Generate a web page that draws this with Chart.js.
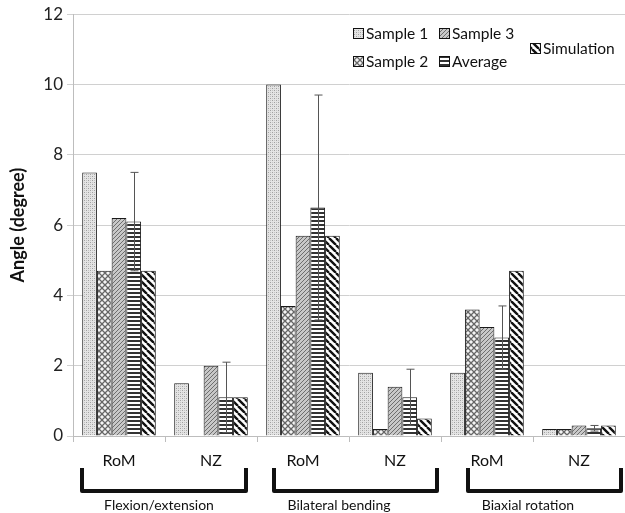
<!DOCTYPE html>
<html>
<head>
<meta charset="utf-8">
<script src="https://cdn.jsdelivr.net/npm/chart.js@4.4.1/dist/chart.umd.min.js"></script>
<style>
  html, body { margin: 0; padding: 0; background: #fff; }
  #wrap { width: 625px; height: 513px; position: relative; }
</style>
</head>
<body>
<div id="wrap"><canvas id="chart"></canvas></div>
<script>
const categories = ["RoM", "NZ", "RoM", "NZ", "RoM", "NZ"];
const groups = ["Flexion/extension", "Bilateral bending", "Biaxial rotation"];

const sample1 = [7.5, 1.5, 10.0, 1.8, 1.8, 0.2];
const sample2 = [4.7, 0, 3.7, 0.2, 3.6, 0.2];
const sample3 = [6.2, 2.0, 5.7, 1.4, 3.1, 0.3];
const average = [6.1, 1.1, 6.5, 1.1, 2.8, 0.22];
const averageErr = [1.4, 1.0, 3.2, 0.8, 0.9, 0.08];
const simulation = [4.7, 1.1, 5.7, 0.5, 4.7, 0.3];

const yTicks = [0, 2, 4, 6, 8, 10, 12];

const FONT = "Lato, 'Open Sans', sans-serif";

function makePattern(size, draw) {
  const c = document.createElement("canvas");
  c.width = size; c.height = size;
  const g = c.getContext("2d");
  draw(g, size);
  return g.createPattern(c, "repeat");
}

// sample 1: fine light grey stipple
const patS1 = makePattern(4, (g, s) => {
  g.fillStyle = "#e4e4e4"; g.fillRect(0, 0, s, s);
  g.fillStyle = "#a0a0a0";
  g.fillRect(0, 0, 1, 1); g.fillRect(2, 2, 1, 1);
  g.fillStyle = "#c4c4c4";
  g.fillRect(2, 0, 1, 1); g.fillRect(0, 2, 1, 1);
});
// sample 2: checker / lattice
const patS2 = makePattern(6, (g, s) => {
  g.fillStyle = "#f4f4f4"; g.fillRect(0, 0, s, s);
  g.strokeStyle = "#666"; g.lineWidth = 1.3;
  g.beginPath();
  g.moveTo(0, 0); g.lineTo(s, s);
  g.moveTo(s, 0); g.lineTo(0, s);
  g.stroke();
});
// sample 3: fine forward diagonal on grey
const patS3 = makePattern(4, (g, s) => {
  g.fillStyle = "#c8c8c8"; g.fillRect(0, 0, s, s);
  g.strokeStyle = "#6e6e6e"; g.lineWidth = 1;
  g.beginPath();
  g.moveTo(0, s); g.lineTo(s, 0);
  g.moveTo(-1, 1); g.lineTo(1, -1);
  g.moveTo(s - 1, s + 1); g.lineTo(s + 1, s - 1);
  g.stroke();
});
// average: horizontal lines
const patAvg = makePattern(4, (g, s) => {
  g.fillStyle = "#ffffff"; g.fillRect(0, 0, s, s);
  g.fillStyle = "#333333"; g.fillRect(0, 0, s, 2);
});
// simulation: wide backward diagonal stripes
const patSim = makePattern(7, (g, s) => {
  g.fillStyle = "#ffffff"; g.fillRect(0, 0, s, s);
  g.strokeStyle = "#111111"; g.lineWidth = 2.4;
  g.beginPath();
  for (let k = -1; k <= 1; k++) {
    g.moveTo(k * s, 0); g.lineTo(k * s + s, s);
  }
  g.stroke();
});

const seriesDefs = [
  { label: "Sample 1", data: sample1, pat: patS1 },
  { label: "Sample 2", data: sample2, pat: patS2 },
  { label: "Sample 3", data: sample3, pat: patS3 },
  { label: "Average", data: average, pat: patAvg },
  { label: "Simulation", data: simulation, pat: patSim },
];

const errorBars = {
  id: "errorBars",
  afterDatasetsDraw(chart) {
    const meta = chart.getDatasetMeta(3);
    const y = chart.scales.y;
    const ctx = chart.ctx;
    ctx.save();
    ctx.strokeStyle = "#555";
    ctx.lineWidth = 1;
    meta.data.forEach((bar, i) => {
      const top = y.getPixelForValue(average[i] + averageErr[i]);
      const bot = y.getPixelForValue(average[i] - averageErr[i]);
      const x = Math.round(bar.x) + 0.5;
      ctx.beginPath();
      ctx.moveTo(x, top); ctx.lineTo(x, bot);
      ctx.moveTo(x - 4, top); ctx.lineTo(x + 4, top);
      ctx.moveTo(x - 4, bot); ctx.lineTo(x + 4, bot);
      ctx.stroke();
    });
    ctx.restore();
  }
};

const brackets = {
  id: "brackets",
  afterDraw(chart) {
    const x = chart.scales.x;
    const ctx = chart.ctx;
    const leftOff = [-37, -29, -19];
    const rightOff = [35, 42, 42];
    const labelOff = [-6, -10, -5];
    ctx.save();
    ctx.strokeStyle = "#111";
    ctx.lineWidth = 4;
    ctx.lineJoin = "round";
    ctx.lineCap = "butt";
    groups.forEach((name, gi) => {
      const c1 = x.getPixelForValue(gi * 2);
      const c2 = x.getPixelForValue(gi * 2 + 1);
      const x1 = c1 + leftOff[gi], x2 = c2 + rightOff[gi];
      ctx.beginPath();
      ctx.moveTo(x1, 468); ctx.lineTo(x1, 491);
      ctx.lineTo(x2, 491); ctx.lineTo(x2, 468);
      ctx.stroke();
      ctx.fillStyle = "#111";
      ctx.font = "14px " + FONT;
      ctx.textAlign = "center";
      ctx.textBaseline = "middle";
      ctx.fillText(name, (c1 + c2) / 2 + labelOff[gi], 505);
    });
    ctx.restore();
  }
};

const legendBox = {
  id: "legendBox",
  afterDraw(chart) {
    const ctx = chart.ctx;
    const spots = [
      [353, 33], [353, 61], [439, 33], [439, 61], [530, 48]
    ];
    ctx.save();
    ctx.font = "15.5px " + FONT;
    ctx.textBaseline = "middle";
    ctx.textAlign = "left";
    seriesDefs.forEach((s, i) => {
      const [lx, ly] = spots[i];
      ctx.fillStyle = s.pat;
      ctx.fillRect(lx, ly - 5, 10, 10);
      ctx.strokeStyle = "#111";
      ctx.lineWidth = 1;
      ctx.strokeRect(lx + 0.5, ly - 4.5, 10, 10);
      ctx.fillStyle = "#111";
      ctx.fillText(s.label, lx + 13, ly + 1);
    });
    ctx.restore();
  }
};

new Chart(document.getElementById("chart"), {
  type: "bar",
  data: {
    labels: categories,
    datasets: seriesDefs.map(s => ({
      label: s.label,
      data: s.data,
      backgroundColor: s.pat,
      borderColor: "#1a1a1a",
      borderWidth: 1,
      categoryPercentage: 0.8,
      barPercentage: 1.0,
    }))
  },
  options: {
    responsive: true,
    maintainAspectRatio: false,
    animation: false,
    devicePixelRatio: 1,
    layout: { padding: { top: 14, right: 0, bottom: 0, left: 0 } },
    plugins: {
      legend: { display: false },
      tooltip: { enabled: false },
    },
    scales: {
      x: {
        grid: { offset: true, drawOnChartArea: false, tickLength: 6, color: "#bdbdbd" },
        border: { color: "#bdbdbd" },
        ticks: { font: { family: FONT, size: 16 }, color: "#111", padding: 9 },
        afterFit(scale) { scale.height = 77; },
      },
      y: {
        min: 0,
        max: 12,
        afterBuildTicks(scale) { scale.ticks = yTicks.map(v => ({ value: v })); },
        grid: { color: "#d0d0d0", tickLength: 6 },
        border: { color: "#bdbdbd" },
        ticks: { font: { family: FONT, size: 17 }, color: "#222", padding: 4 },
        title: {
          display: true,
          text: "Angle (degree)",
          font: { family: FONT, size: 18, weight: "bold" },
          color: "#111",
          padding: { top: 7, bottom: 6 },
        },
        afterFit(scale) { scale.width = 73; },
      }
    }
  },
  plugins: [errorBars, brackets, legendBox]
});
</script>
</body>
</html>
